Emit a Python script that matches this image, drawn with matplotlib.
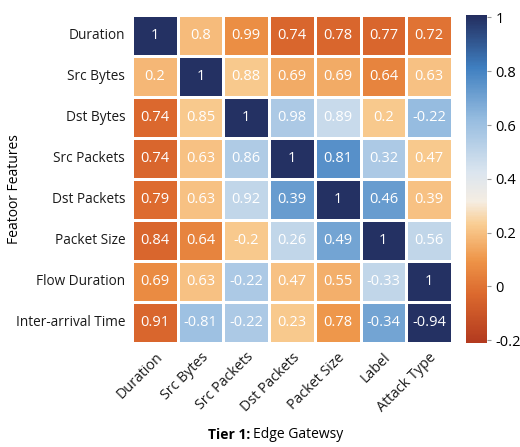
import matplotlib
matplotlib.use("Agg")
import matplotlib.pyplot as plt
import numpy as np
import seaborn as sns
from matplotlib.colors import LinearSegmentedColormap

plt.rcParams['font.family'] = ['Open Sans', 'DejaVu Sans']

row_labels = ["Duration", "Src Bytes", "Dst Bytes", "Src Packets", "Dst Packets",
              "Packet Size", "Flow Duration", "Inter-arrival Time"]
col_labels = ["Duration", "Src Bytes", "Src Packets", "Dst Packets", "Packet Size",
              "Label", "Attack Type"]

# numbers printed in the cells
annot_vals = [
    ["1", "0.8", "0.99", "0.74", "0.78", "0.77", "0.72"],
    ["0.2", "1", "0.88", "0.69", "0.69", "0.64", "0.63"],
    ["0.74", "0.85", "1", "0.98", "0.89", "0.2", "-0.22"],
    ["0.74", "0.63", "0.86", "1", "0.81", "0.32", "0.47"],
    ["0.79", "0.63", "0.92", "0.39", "1", "0.46", "0.39"],
    ["0.84", "0.64", "-0.2", "0.26", "0.49", "1", "0.56"],
    ["0.69", "0.63", "-0.22", "0.47", "0.55", "-0.33", "1"],
    ["0.91", "-0.81", "-0.22", "0.23", "0.78", "-0.34", "-0.94"],
]

# values behind the cell colours
color_vals = [
    [1.0, 0.19, 0.08, -0.04, -0.04, -0.04, 0.0],
    [0.18, 1.0, 0.22, 0.15, 0.15, 0.05, 0.2],
    [-0.03, 0.22, 1.0, 0.56, 0.48, 0.22, 0.62],
    [-0.04, 0.2, 0.55, 1.0, 0.76, 0.56, 0.22],
    [-0.02, 0.2, 0.5, 0.72, 1.0, 0.72, 0.2],
    [-0.04, 0.05, 0.22, 0.5, 0.7, 1.0, 0.5],
    [0.07, 0.2, 0.56, 0.2, 0.16, 0.5, 1.0],
    [-0.04, 0.6, 0.56, 0.22, 0.1, 0.7, 1.0],
]

cmap = LinearSegmentedColormap.from_list("edge", [
    (0.0, "#b33a1f"), (0.15, "#dc6a2e"), (0.25, "#ee9448"),
    (0.36, "#f9cd92"), (0.43, "#f5ede2"), (0.52, "#dbe5ef"),
    (0.68, "#97bde0"), (0.84, "#3f7fc0"), (1.0, "#232d5e")])

fig = plt.figure(figsize=(5.2, 4.47), dpi=100)
ax = fig.add_axes([0.254, 0.233, 0.615, 0.734])
cax = fig.add_axes([0.896, 0.233, 0.040, 0.734])

sns.heatmap(np.array(color_vals), ax=ax, cbar_ax=cax, cmap=cmap, vmin=-0.21, vmax=1.01,
            annot=np.array(annot_vals), fmt="", linewidths=1.0, linecolor="white",
            annot_kws={"color": "white", "fontsize": 10.5},
            xticklabels=col_labels, yticklabels=row_labels)

ax.tick_params(length=0, labelsize=9.8, pad=5)
ax.set_yticklabels(row_labels, rotation=0, color="#1a1a1a")
ax.set_xticklabels(col_labels, rotation=45, ha="right", rotation_mode="anchor",
                   color="#1a1a1a", fontsize=10.3)
ax.set_ylabel("Featoor Features", fontsize=10)
ax.yaxis.set_label_coords(-0.345, 0.47)

cax.set_yticks([1, 0.8, 0.6, 0.4, 0.2, 0, -0.2])
cax.set_yticklabels(["1", "0.8", "0.6", "0.4", "0.2", "0", "-0.2"])
cax.tick_params(labelsize=10.5, length=3, color="#999999")
for s in cax.spines.values():
    s.set_visible(False)

fig.text(0.481, 0.027, "Tier 1:", fontsize=10, fontweight="bold", ha="right", va="center")
fig.text(0.487, 0.027, "Edge Gatewsy", fontsize=10, ha="left", va="center")

fig.savefig("out.png", dpi=100)
